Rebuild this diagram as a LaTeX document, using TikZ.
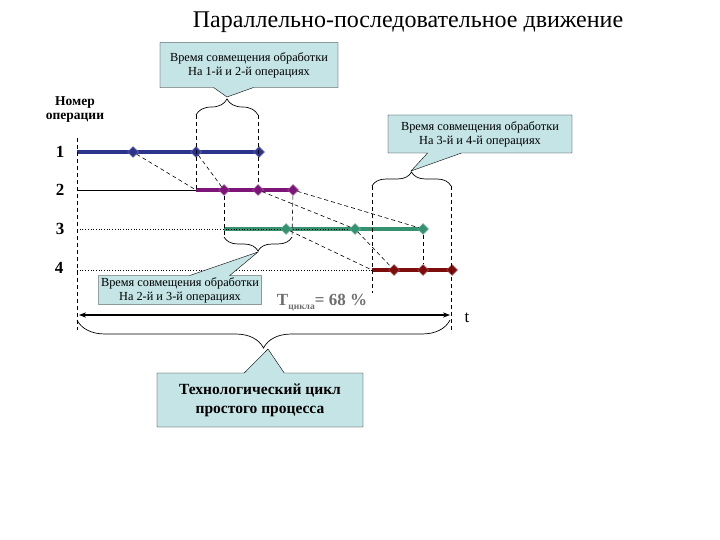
\documentclass[tikz,border=0pt]{standalone}
\usepackage{fontspec}
\setmainfont{Liberation Serif}
\usetikzlibrary{positioning,shapes.geometric,shapes.callouts,decorations.pathreplacing,arrows.meta,backgrounds}
\definecolor{opblue}{RGB}{43,52,140}
\definecolor{oppurple}{RGB}{125,20,120}
\definecolor{opgreen}{RGB}{52,146,112}
\definecolor{opred}{RGB}{125,12,12}
\definecolor{notefill}{RGB}{196,228,230}
\definecolor{tgray}{RGB}{110,110,110}

\begin{document}
\begin{tikzpicture}[
  x=1pt,y=-1pt,
  dia/.style={diamond,draw=#1!70!white,fill=#1,minimum size=11pt,inner sep=0pt,line width=0.5pt},
  opline/.style={line width=4pt,draw=#1},
  link/.style={dash pattern=on 4pt off 3pt,line width=0.6pt},
  brc/.style={decorate,decoration={brace,amplitude=#1},line width=0.7pt},
  note/.style={rectangle callout,draw,fill=notefill,align=center,inner sep=1pt,
    callout pointer width=40pt,font=\fontsize{12.3}{14}\selectfont},
  rowlbl/.style={font=\bfseries\fontsize{17}{17}\selectfont}
]
\useasboundingbox (0,0) rectangle (720,540);

\node (title) at (408,22) {\fontsize{24}{28}\selectfont Параллельно-последовательное движение};
\node[font=\bfseries\fontsize{13.5}{14}\selectfont,align=center] (hdr) at (75,110) {Номер\\операции};
\node[rowlbl] (n1) at (60,152) {1};
\node[rowlbl] (n2) at (60,190) {2};
\node[rowlbl] (n3) at (60,229) {3};
\node[rowlbl] (n4) at (59,268) {4};

% operations
\coordinate (s1) at (77,152);
\coordinate (a2) at (77,190);
\coordinate (a3) at (77,229);
\coordinate (a4) at (77,270);
\coordinate (s2) at (196,190);
\coordinate (s3) at (224,229);
\coordinate (s4) at (372,270);
\node[dia=opblue] (d11) at (133,152) {};
\node[dia=opblue] (d12) at (196,152) {};
\node[dia=opblue] (d13) at (259,152) {};
\node[dia=oppurple] (d21) at (224,190) {};
\node[dia=oppurple] (d22) at (258,190) {};
\node[dia=oppurple] (d23) at (293,190) {};
\node[dia=opgreen] (d31) at (286,229) {};
\node[dia=opgreen] (d32) at (355,229) {};
\node[dia=opgreen] (d33) at (423,229) {};
\node[dia=opred] (d41) at (394,270) {};
\node[dia=opred] (d42) at (423,270) {};
\node[dia=opred] (d43) at (452,270) {};

\begin{scope}[on background layer]
\draw[opline=opblue] (s1) -- (d13.center);
\draw[opline=oppurple] (s2) -- (d23.center);
\draw[opline=opgreen] (s3) -- (d33.center);
\draw[opline=opred] (s4) -- (d43.center);
\draw[line width=0.6pt] (a2) -- (s2);
\draw[dotted,line width=0.7pt] (a3) -- (d32.center);
\draw[dotted,line width=0.7pt] (a4) -- (s4);
\end{scope}

% transfers
\draw[link] (d11) -- (s2);
\draw[link] (d12) -- (d21);
\draw[link] (d22) -- (d32);
\draw[link] (d23) -- (d33);
\draw[link] (d31) -- (s4);
\draw[link] (d32) -- (d41);
\draw[link] (d33) -- (d42);

% axis
\coordinate (ax0) at (77,138);
\coordinate (ax1) at (77,330);
\draw[link] (ax0) -- (ax1);

% braces
\coordinate (b1l) at (196,115);
\coordinate (b1r) at (258,115);
\coordinate (t1) at (227,97);
\draw[brc=16pt] (b1l) -- (b1r);
\draw[link] (b1l) -- (s2);
\draw[link] (b1r) -- (d22);

\coordinate (b2l) at (224,237);
\coordinate (b2r) at (292,237);
\coordinate (t2) at (258,252);
\draw[brc=14pt] (b2r) -- (b2l);
\draw[link] (d21) -- (b2l);
\draw[link] (d23) -- (b2r);

\coordinate (b3l) at (372,186);
\coordinate (b3r) at (451,186);
\coordinate (v3) at (372,293);
\coordinate (v4) at (451,333);
\coordinate (t3) at (411,171);
\draw[brc=14pt] (b3l) -- (b3r);
\draw[link] (b3l) -- (v3);
\draw[link] (b3r) -- (v4);

% time axis
\coordinate (ta) at (79,315);
\coordinate (tb) at (450,315);
\draw[{Stealth[length=7pt]}-{Stealth[length=7pt]},line width=1.4pt] (ta) -- (tb);
\node[font=\fontsize{17}{17}\selectfont] (tl) at (467,318) {t};
\node[tgray,font=\bfseries] (tc) at (322,303)
  {\fontsize{17}{17}\selectfont Т\raisebox{-4pt}{\fontsize{9.5}{9.5}\selectfont цикла}= 68 \%};

\coordinate (bl) at (77,320);
\coordinate (br) at (450,320);
\coordinate (t4) at (268,349);
\draw[brc=28pt] (br) -- (bl);

% notes
\node[note,minimum width=178pt,minimum height=45pt,callout absolute pointer={(t1)}] (c1) at (249,65)
  {Время совмещения обработки\\На 1-й и 2-й операциях};
\node[note,minimum width=163pt,minimum height=29pt,callout absolute pointer={(t2)}] (c2) at (180,290)
  {Время совмещения обработки\\На 2-й и 3-й операциях};
\node[note,minimum width=184pt,minimum height=38pt,callout absolute pointer={(t3)},callout pointer width=34pt] (c3) at (480,134)
  {Время совмещения обработки\\На 3-й и 4-й операциях};
\node[note,minimum width=206pt,minimum height=54pt,callout absolute pointer={(t4)},
  font=\bfseries\fontsize{15.5}{19}\selectfont] (c4) at (260,400)
  {Технологический цикл\\простого процесса};
\end{tikzpicture}
\end{document}
